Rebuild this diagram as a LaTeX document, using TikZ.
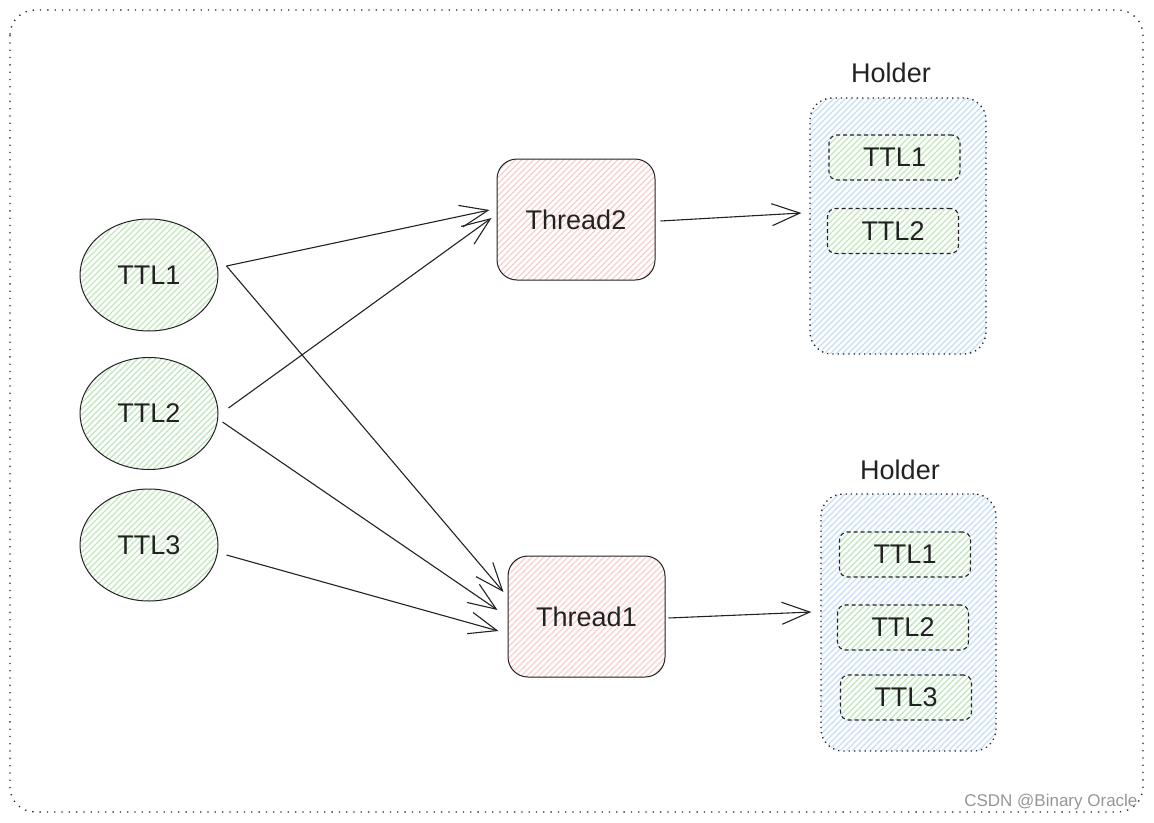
\documentclass[tikz,border=0pt]{standalone}
\usepackage{fontspec}
\setmainfont{Liberation Sans}
\usetikzlibrary{shapes.geometric,arrows.meta}
\definecolor{ink}{RGB}{34,34,34}
\definecolor{ghatch}{RGB}{192,232,188}
\definecolor{rhatch}{RGB}{250,208,208}
\definecolor{bhatch}{RGB}{196,223,247}
\definecolor{wm}{RGB}{150,150,150}
\tikzset{
  hatch/.style={fill=white, path picture={
     \foreach \k in {-300,-294,...,300}
       \draw[#1, line width=1.3pt, solid] ([shift={(\k,0)}]path picture bounding box.center) ++(-200,200) -- ++(400,-400);}},
  lbl/.style={font=\fontsize{27}{30}\selectfont, text=ink},
  ttlell/.style={ellipse, draw=ink, line width=1pt, minimum width=138pt, minimum height=112pt, inner sep=0pt, hatch=ghatch, lbl},
  thread/.style={rectangle, rounded corners=20pt, draw=ink, line width=1pt, minimum width=158pt, minimum height=121pt, inner sep=0pt, hatch=rhatch, lbl},
  holder/.style={rectangle, rounded corners=22pt, draw=ink, line width=1.3pt, dash pattern=on 1.3pt off 4pt, minimum width=176pt, minimum height=256pt, inner sep=0pt, hatch=bhatch},
  item/.style={rectangle, rounded corners=8pt, draw=ink, line width=1.1pt, dash pattern=on 4pt off 3pt, minimum width=131pt, minimum height=45pt, inner sep=0pt, hatch=ghatch, lbl},
  conn/.style={draw=ink, line width=1.1pt, -{Straight Barb[length=28pt,width=22pt,line width=1.1pt]}},
}
\begin{document}
\begin{tikzpicture}[x=1pt,y=-1pt]
\useasboundingbox (0,0) rectangle (1154,822);
\draw[ink, line width=1.3pt, dash pattern=on 1.3pt off 6pt, rounded corners=25pt] (10,10) rectangle (1143,812);

\node[ttlell] (ttl1) at (149,275) {TTL1};
\node[ttlell] (ttl2) at (149,413.5) {TTL2};
\node[ttlell] (ttl3) at (149,545) {TTL3};

\node[thread] (th2) at (576,219.5) {Thread2};
\node[thread, minimum width=157pt] (th1) at (586.5,616.5) {Thread1};

\node[holder] (h1) at (898,226) {};
\node[lbl] (h1l) at (891,73) {Holder};
\node[item] (h1a) at (894.5,157.5) {TTL1};
\node[item] (h1b) at (893,231) {TTL2};

\node[holder, minimum width=175pt, minimum height=257pt] (h2) at (908.5,622.5) {};
\node[lbl] (h2l) at (900,470) {Holder};
\node[item] (h2a) at (905,554.5) {TTL1};
\node[item] (h2b) at (903,627.5) {TTL2};
\node[item] (h2c) at (906,697.5) {TTL3};

\draw[conn] ([shift={(8,-9)}]ttl1.east) -- ([shift={(-7,-9.5)}]th2.west);
\draw[conn] ([shift={(8,-9)}]ttl1.east) -- ([shift={(-4,-24.5)}]th1.west);
\draw[conn] ([shift={(10,-5.5)}]ttl2.east) -- ([shift={(-5,-1.5)}]th2.west);
\draw[conn] ([shift={(4,8.5)}]ttl2.east) -- ([shift={(-10,-6.5)}]th1.west);
\draw[conn] ([shift={(8,10)}]ttl3.east) -- ([shift={(-9,14.5)}]th1.west);
\draw[conn] ([shift={(5,1.5)}]th2.east) -- ([shift={(-8,-13)}]h1.west);
\draw[conn] ([shift={(3,1.5)}]th1.east) -- ([shift={(-9,-10.5)}]h2.west);

\node[anchor=east, font=\fontsize{17}{19}\selectfont, text=wm] (wmk) at (1141,802) {CSDN @Binary Oracle};
\end{tikzpicture}
\end{document}
